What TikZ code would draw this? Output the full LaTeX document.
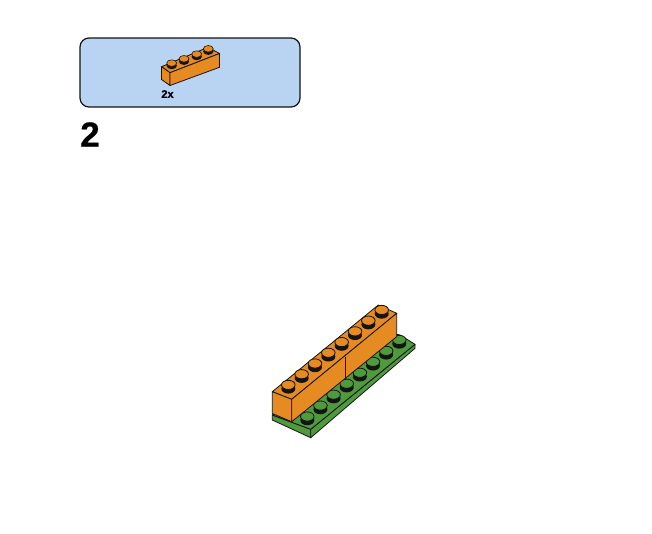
\documentclass[tikz,border=0pt]{standalone}
\usepackage{fontspec}
\setmainfont[BoldFeatures={FakeBold=0.6}]{Liberation Sans}
\definecolor{panelblue}{HTML}{B9D4F3}
\definecolor{brickorange}{HTML}{E68A22}
\definecolor{brickgreen}{HTML}{4F9A3C}
\definecolor{inkline}{HTML}{141414}
\tikzset{
  outline/.style={draw=inkline,line width=0.8pt,line join=round},
  orangeface/.style={outline,fill=brickorange},
  greenface/.style={outline,fill=brickgreen},
  pics/bigstud/.style={code={
    \fill[inkline] (0,2) ellipse [x radius=7,y radius=4.9];
    \path[outline,fill=#1] (0,-1.8) ellipse [x radius=6.8,y radius=4.6];
  }},
  pics/smallstud/.style={code={
    \fill[inkline] (0,1.4) ellipse [x radius=5.2,y radius=3.5];
    \path[outline,line width=0.6pt,fill=brickorange] (0,-1.2) ellipse [x radius=5,y radius=3.3];
  }},
}
\begin{document}
\begin{tikzpicture}[x=1pt,y=-1pt]
\useasboundingbox (0,0) rectangle (652,533);
\fill[white] (0,0) rectangle (652,533);
% parts panel
\draw[draw=inkline,line width=1.2pt,fill=panelblue,rounded corners=9pt] (80,38) rectangle (300,107);
% small brick
\path[orangeface] (161.5,66.7) -- (208,47.3) -- (219.5,53.5) -- (170,72.7) -- cycle;
\path[orangeface] (161.5,66.7) -- (170,72.7) -- (170,85.5) -- (161.5,79.5) -- cycle;
\path[orangeface] (170,72.7) -- (219.5,53.5) -- (219.5,67.3) -- (170,85.5) -- cycle;
\foreach \x/\y in {171.7/64.3,184/60,196.7/55.3,208.3/50}
  \pic at (\x,\y) {smallstud};
\node[font=\bfseries\fontsize{11}{12}\selectfont,inner sep=0pt] (qty) at (167.5,94) {2x};
\node[font=\bfseries\fontsize{35}{38}\selectfont,inner sep=0pt] (stepnum) at (90,134.5) {2};
% green plate
\path[greenface] (272.3,415) -- (310.7,429.3) -- (310.7,437.7) -- (272.3,420) -- cycle;
\path[greenface] (310.7,429.3) -- (415,344.3) -- (415,348.3) -- (310.7,437.7) -- cycle;
\path[greenface] (272.3,415) -- (376,330) -- (400,335) -- (415,344.3) -- (310.7,429.3) -- cycle;
\foreach \i in {0,...,7}
  \pic at ({307.3+13.14*\i},{418.3-10.94*\i}) {bigstud=brickgreen};
% orange bricks
\path[orangeface] (272.3,391.7) -- (378.3,305) -- (396.7,313.3) -- (291.7,399.3) -- cycle;
\path[orangeface] (272.3,391.7) -- (291.7,399.3) -- (291.7,421.7) -- (272.3,413.5) -- cycle;
\path[orangeface] (291.7,399.3) -- (396.7,313.3) -- (396.7,336.7) -- (291.7,421.7) -- cycle;
\draw[outline] (345,356.7) -- (345,379.5);
\foreach \i in {0,...,7}
  \pic at ({288.3+13.34*\i},{386.7-10.71*\i}) {bigstud=brickorange};
\end{tikzpicture}
\end{document}
